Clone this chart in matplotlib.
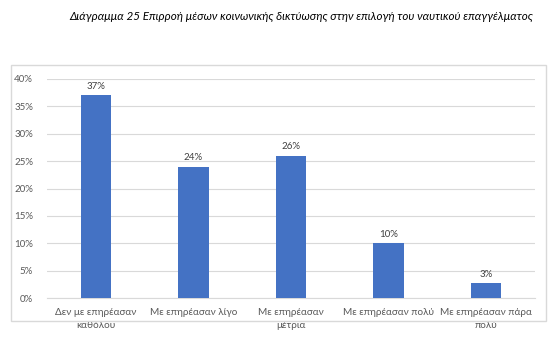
import matplotlib.pyplot as plt
from matplotlib.patches import Rectangle
from matplotlib.ticker import PercentFormatter

plt.rcParams['font.family'] = ['Lato', 'DejaVu Sans']

categories = ['Δεν με επηρέασαν\nκαθόλου', 'Με επηρέασαν λίγο', 'Με επηρέασαν\nμέτρια',
              'Με επηρέασαν πολύ', 'Με επηρέασαν πάρα\nπολύ']
values = [0.37, 0.24, 0.26, 0.10, 0.027]
yticks = [0, 0.05, 0.10, 0.15, 0.20, 0.25, 0.30, 0.35, 0.40]

fig = plt.figure(figsize=(5.57, 3.49), dpi=100)

# πλαίσιο γραφήματος
fig.patches.append(Rectangle((11 / 557, 1 - 321 / 349), 535 / 557, 256 / 349,
                             transform=fig.transFigure, fill=False,
                             edgecolor='#d9d9d9', linewidth=1))

fig.text(0.54, 1 - 16 / 349,
         'Διάγραμμα 25 Επιρροή μέσων κοινωνικής δικτύωσης στην επιλογή του ναυτικού επαγγέλματος',
         ha='center', va='center', fontsize=8.4, style='italic', color='black')

ax = fig.add_axes([47 / 557, 1 - 298 / 349, 488 / 557, 219 / 349])
x = range(len(categories))
bars = ax.bar(x, values, width=0.31, color='#4472c4', zorder=3)

for xi, v in zip(x, values):
    ax.text(xi, v + 0.008, f'{v * 100:.0f}%', ha='center', va='bottom',
            fontsize=7, color='#404040')

ax.set_ylim(0, 0.40)
ax.set_xlim(-0.5, len(categories) - 0.5)
ax.set_yticks(yticks)
ax.yaxis.set_major_formatter(PercentFormatter(1.0, decimals=0))
ax.set_xticks(list(x))
ax.set_xticklabels(categories, fontsize=7.2, color='#595959', linespacing=1.55)
ax.tick_params(axis='y', labelsize=7, labelcolor='#595959', length=0, pad=10)
ax.tick_params(axis='x', length=0, pad=7)
ax.grid(axis='y', color='#d9d9d9', linewidth=0.8, zorder=0)
for s in ['top', 'right', 'left']:
    ax.spines[s].set_visible(False)
ax.spines['bottom'].set_color('#d9d9d9')

fig.savefig('out.png', dpi=100)
